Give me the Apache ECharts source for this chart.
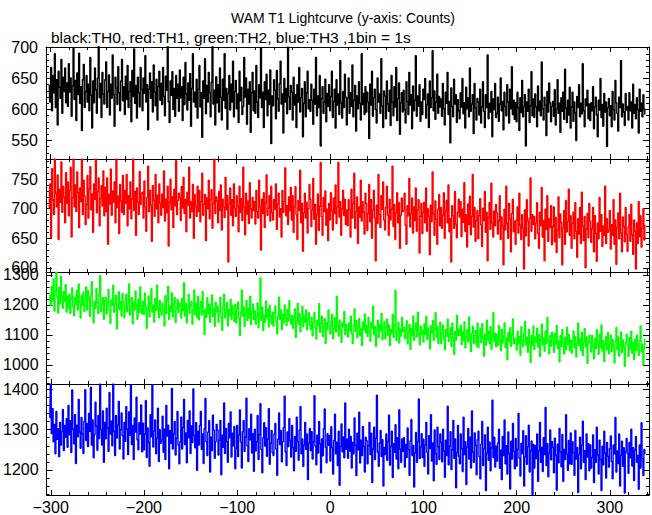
<!DOCTYPE html>
<html>
<head>
<meta charset="utf-8">
<script src="https://cdn.jsdelivr.net/npm/echarts@6/dist/echarts.min.js"></script>
<style>
html,body{margin:0;padding:0;background:#fff;}
#chart{width:652px;height:515px;}
</style>
</head>
<body>
<div id="chart"></div>
<script>
// ---- data (1 bin = 1 s) ----
const T_START = -301;   // time of first bin (s)
const BIN = 1;          // bin width (s)

const th0 = [
640,612,668,598,655,627,690,603,648,575,662,636,618,681,594,652,629,667,611,643,
605,674,628,651,589,638,700,616,647,582,659,624,691,610,637,566,648,673,603,629,
655,612,641,598,684,623,570,646,611,667,632,594,651,705,619,642,587,660,625,609,
648,677,603,629,656,591,641,618,688,624,573,652,635,608,669,627,598,646,681,614,
637,592,654,616,671,603,629,645,580,663,621,698,610,639,586,652,627,604,668,633,
598,651,626,687,612,640,567,633,659,618,645,596,672,628,606,649,583,637,662,615,
642,608,668,621,590,654,631,703,612,579,646,623,661,600,634,589,655,618,641,597,
664,619,637,582,652,608,676,625,599,643,615,658,573,634,690,612,628,604,649,586,
633,671,604,627,555,646,618,682,593,639,612,660,627,588,644,705,609,631,575,653,
611,640,596,667,620,583,649,615,690,602,634,568,626,655,599,641,612,678,588,629,
647,601,625,579,662,614,636,592,605,684,620,651,576,633,609,645,563,627,660,598,
630,594,671,612,587,640,619,700,603,628,571,645,616,657,590,631,608,664,545,622,
606,648,631,585,663,617,597,642,678,609,625,562,650,612,634,593,701,621,600,639,
628,583,652,607,624,571,640,612,668,596,619,634,556,610,645,588,627,662,601,616,
597,641,615,576,633,609,684,590,622,603,655,541,618,637,594,612,649,580,626,605,
640,598,621,662,587,613,633,570,648,607,625,592,679,611,586,629,603,657,620,575,
618,651,594,627,605,672,588,615,639,565,622,601,645,610,583,690,608,626,592,637,
596,628,612,553,641,607,662,589,619,633,600,578,651,612,625,594,682,606,571,630,
622,585,646,609,597,631,574,655,612,590,637,604,668,582,618,643,560,611,627,596,
631,600,578,645,613,592,660,607,624,569,638,598,615,687,589,622,605,640,581,612,
592,633,616,650,586,608,625,571,646,603,619,695,598,630,584,612,657,594,621,604,
617,589,642,601,575,628,610,660,592,613,546,635,605,588,649,609,624,579,616,598,
585,627,604,650,593,611,570,636,601,619,588,667,597,609,624,561,642,603,583,618,
612,591,633,578,604,645,597,571,624,603,688,585,610,596,629,556,617,600,642,587,
594,620,581,609,651,598,613,567,628,605,590,640,612,578,633,601,669,592,615,584,
611,580,628,603,566,619,595,647,588,605,624,541,612,597,633,579,606,661,590,617,
587,625,604,572,638,598,614,590,677,601,583,620,607,558,629,596,643,611,580,605,
613,589,632,575,601,648,594,610,563,619,597,628,584,665,602,579,615,591,636,570,
604,628,581,612,595,550,621,603,640,588,610,593,674,598,572,617,606,631,585,609,
582,611,598,637,569,604,620,591,556,615,599,650,587,608,573,626,596,612,540,603,
618,590,606,572,629,600,583,647,611,594,565,620,603,679,588,609,596,574,626,599,
605,583,627,598,612,570,641,594,608,585,619,600,562,633,597,610,588,624,601,592
];

const th1 = [
700,742,651,768,715,690,784,726,703,757,648,733,711,779,694,738,720,676,761,709,
745,688,731,770,652,719,784,703,740,695,762,727,668,735,712,784,690,748,721,673,
707,756,684,733,771,698,725,660,742,716,784,693,729,752,671,717,739,705,764,688,
736,695,752,640,724,708,767,689,730,711,745,676,784,702,721,658,741,713,694,756,
690,731,709,758,671,722,700,745,683,716,784,697,729,655,735,711,690,763,707,726,
728,684,747,703,662,719,772,695,731,706,645,739,714,687,758,700,723,676,742,709,
689,725,702,764,679,716,693,738,637,711,750,698,720,668,733,705,781,690,714,726,
719,680,737,701,753,692,715,661,728,706,770,684,712,695,741,650,724,703,687,738,
695,731,678,712,760,689,707,724,646,718,700,748,683,715,732,667,709,784,692,720,
713,676,729,697,740,664,716,703,685,753,698,722,610,708,735,689,715,671,742,701,
687,722,705,661,738,694,717,680,770,702,656,726,691,713,675,744,700,684,719,697,
712,674,731,695,684,748,703,630,716,692,727,668,710,757,689,701,722,679,738,694,
681,715,699,742,665,708,726,686,700,652,731,694,712,769,688,705,673,720,697,736,
681,722,660,703,737,690,648,714,697,765,676,709,628,693,726,684,711,659,700,741,
716,670,698,751,682,707,640,690,725,663,704,778,687,655,719,695,730,672,699,646,
709,681,727,697,664,718,692,740,675,703,778,686,712,655,700,731,689,716,673,698,
671,715,698,652,733,684,709,760,667,695,720,641,703,686,748,679,712,694,657,726,
709,663,692,741,678,715,650,697,731,684,612,706,675,758,690,668,722,699,745,681,
664,702,738,689,655,716,681,699,772,670,707,648,693,727,676,710,633,689,718,695,
697,726,672,640,705,688,751,669,692,718,659,703,680,735,662,698,715,625,687,709,
658,693,711,676,735,662,700,687,622,706,678,762,691,655,713,682,640,699,724,671,
702,667,689,727,650,696,714,676,740,661,683,610,705,688,667,729,674,651,694,716,
686,712,653,699,677,744,662,690,635,708,673,721,656,687,758,669,702,645,680,697,
649,688,717,673,636,701,680,729,660,694,612,685,710,665,743,676,652,696,671,707,
693,657,680,722,648,686,671,605,699,664,738,675,650,709,683,627,692,716,661,679,
640,681,703,659,726,672,648,690,667,598,698,654,715,679,637,684,752,662,690,673,
687,649,676,710,658,633,694,671,736,652,680,612,699,665,722,645,683,668,705,639,
670,703,644,685,626,664,720,651,691,677,605,668,697,640,714,661,679,733,655,688,
633,675,694,649,710,662,618,683,657,702,641,728,670,646,687,600,665,692,651,709,
679,643,666,702,627,688,658,611,676,649,719,662,690,636,671,655,738,641,683,660,
664,697,632,673,655,715,640,681,606,668,693,649,726,659,627,686,670,644,702,657,
628,669,690,645,707,656,623,681,662,598,676,641,712,653,688,635,667,700,647,673
];

const th2 = [
1235,1198,1262,1214,1287,1180,1246,1310,1225,1173,1258,1204,1296,1230,1189,1244,1211,1268,1176,1229,
1190,1236,1172,1218,1257,1195,1164,1226,1201,1249,1183,1270,1208,1156,1231,1199,1243,1178,1214,1260,
1183,1247,1219,1162,1231,1278,1196,1140,1212,1189,1255,1207,1171,1236,1298,1178,1203,1224,1152,1215,
1226,1170,1208,1252,1181,1139,1217,1199,1266,1176,1203,1232,1120,1191,1244,1185,1211,1163,1238,1197,
1158,1214,1236,1177,1203,1270,1166,1192,1224,1137,1209,1183,1247,1199,1152,1218,1175,1260,1196,1171,
1212,1168,1240,1195,1122,1187,1229,1160,1205,1255,1176,1199,1143,1221,1182,1266,1190,1157,1214,1179,
1165,1206,1188,1130,1231,1172,1214,1262,1151,1196,1179,1241,1160,1203,1225,1141,1186,1218,1175,1207,
1199,1156,1222,1181,1274,1163,1205,1140,1190,1236,1171,1197,1212,1136,1183,1250,1167,1206,1158,1229,
1150,1193,1211,1166,1245,1179,1101,1187,1159,1224,1171,1203,1142,1196,1233,1162,1188,1129,1209,1176,
1197,1143,1180,1226,1161,1115,1192,1236,1156,1174,1208,1130,1185,1164,1219,1151,1198,1171,1145,1202,
1140,1186,1210,1155,1098,1175,1250,1163,1194,1128,1169,1215,1148,1189,1157,1229,1134,1178,1203,1152,
1181,1136,1160,1207,1124,1170,1290,1149,1193,1115,1166,1142,1213,1158,1185,1127,1199,1162,1137,1176,
1129,1175,1197,1143,1104,1162,1226,1151,1183,1118,1168,1140,1200,1157,1131,1186,1146,1214,1163,1136,
1166,1122,1158,1187,1092,1149,1205,1135,1171,1110,1153,1196,1127,1162,1143,1183,1117,1150,1174,1131,
1118,1160,1097,1141,1175,1123,1086,1149,1130,1204,1109,1137,1162,1095,1128,1154,1072,1140,1117,1183,
1146,1103,1131,1169,1088,1122,1157,1110,1229,1134,1096,1150,1119,1075,1141,1127,1178,1101,1136,1113,
1093,1139,1115,1162,1104,1071,1133,1187,1112,1148,1090,1126,1155,1098,1121,1064,1143,1117,1170,1107,
1132,1095,1158,1110,1079,1141,1123,1196,1100,1128,1062,1117,1149,1091,1136,1113,1172,1084,1125,1145,
1087,1124,1152,1099,1133,1064,1118,1105,1168,1092,1129,1249,1081,1115,1142,1073,1120,1096,1158,1111,
1126,1088,1114,1147,1070,1109,1135,1052,1121,1097,1163,1082,1118,1140,1093,1176,1104,1067,1130,1101,
1114,1076,1137,1101,1162,1085,1123,1097,1053,1130,1106,1148,1082,1119,1174,1093,1127,1071,1110,1142,
1071,1108,1133,1085,1050,1117,1096,1152,1079,1102,1124,1062,1139,1090,1035,1111,1083,1166,1098,1120,
1099,1132,1068,1110,1081,1143,1057,1094,1118,1076,1160,1089,1044,1106,1129,1072,1097,1115,1063,1139,
1058,1096,1121,1074,1137,1090,1029,1103,1066,1149,1083,1112,1070,1127,1052,1094,1175,1078,1105,1060,
1102,1065,1131,1084,1047,1119,1073,1096,1140,1058,1090,1017,1108,1076,1124,1062,1099,1153,1070,1088,
1085,1049,1112,1070,1094,1033,1127,1081,1060,1106,1145,1067,1092,1042,1119,1075,1008,1098,1064,1130,
1051,1093,1076,1122,1059,1101,1028,1084,1136,1066,1090,1045,1113,1072,1158,1080,1037,1097,1063,1109,
1088,1042,1105,1069,1131,1055,1079,1010,1097,1061,1118,1074,1036,1092,1050,1126,1068,1101,1047,1083,
1039,1081,1113,1057,1095,1026,1072,1140,1064,1088,1048,1109,1031,1077,1121,1059,1093,1005,1070,1099,
1075,1043,1098,1062,1020,1087,1054,1117,1069,1035,1102,1058,1133,1046,1081,1011,1066,1094,1050,1108,
1037,1071,1099,1044,1085,1061,1006,1078,1125,1050,1093,1029,1066,1110,1041,1083,1057,995,1074,1102,
1064,1028,1091,1053,1112,1039,1075,1018,1086,1047,1099,1060,1032,1081,1130,1043,1069,1001,1056,1088
];

const th3 = [
1328,1413,1290,1352,1270,1313,1240,1345,1276,1302,1233,1318,1262,1295,1350,1248,1310,1281,1327,1256,
1360,1287,1322,1243,1398,1301,1265,1337,1216,1311,1282,1375,1294,1254,1330,1290,1241,1320,1399,1273,
1315,1258,1340,1296,1405,1262,1324,1230,1287,1368,1309,1249,1335,1278,1413,1300,1262,1346,1219,1318,
1277,1353,1304,1246,1392,1289,1321,1260,1413,1296,1236,1335,1279,1311,1370,1252,1300,1341,1285,1227,
1318,1271,1357,1301,1238,1344,1286,1410,1263,1310,1226,1329,1294,1380,1275,1250,1317,1289,1361,1245,
1316,1250,1289,1372,1231,1304,1268,1209,1337,1282,1411,1257,1296,1324,1240,1279,1353,1221,1300,1266,
1275,1333,1244,1301,1226,1360,1284,1311,1203,1297,1266,1402,1252,1289,1320,1237,1278,1345,1262,1215,
1270,1331,1252,1305,1375,1263,1292,1218,1323,1280,1346,1241,1309,1268,1401,1285,1255,1317,1199,1296,
1262,1310,1345,1251,1289,1216,1302,1377,1270,1236,1294,1322,1195,1281,1248,1336,1299,1229,1270,1313,
1299,1237,1274,1323,1188,1286,1256,1366,1241,1303,1270,1219,1315,1280,1344,1232,1291,1260,1308,1203,
1254,1310,1233,1287,1349,1269,1205,1295,1322,1246,1281,1378,1260,1221,1302,1275,1338,1242,1290,1197,
1301,1247,1270,1335,1226,1288,1364,1251,1193,1280,1317,1259,1305,1234,1276,1352,1214,1266,1298,1243,
1236,1289,1315,1252,1187,1276,1341,1263,1298,1220,1270,1305,1383,1245,1211,1294,1258,1327,1274,1232,
1310,1255,1198,1283,1246,1331,1270,1224,1299,1357,1240,1277,1209,1262,1318,1251,1289,1176,1267,1303,
1248,1295,1227,1270,1384,1259,1213,1286,1242,1320,1265,1193,1277,1235,1302,1351,1256,1218,1290,1261,
1285,1222,1307,1256,1190,1273,1338,1240,1269,1211,1296,1162,1258,1314,1245,1282,1230,1366,1251,1276,
1229,1301,1247,1283,1205,1268,1240,1329,1262,1186,1291,1250,1343,1217,1274,1236,1308,1258,1195,1281,
1273,1215,1260,1318,1238,1291,1169,1252,1306,1226,1279,1385,1244,1209,1267,1298,1233,1275,1160,1256,
1238,1289,1224,1270,1336,1212,1258,1296,1181,1265,1244,1312,1227,1280,1203,1349,1252,1219,1277,1246,
1280,1207,1263,1231,1304,1250,1187,1272,1325,1236,1261,1158,1242,1293,1219,1270,1376,1228,1257,1290,
1231,1276,1209,1262,1318,1244,1190,1285,1253,1337,1222,1267,1173,1299,1240,1214,1306,1258,1226,1289,
1268,1220,1301,1247,1182,1274,1236,1358,1213,1259,1295,1201,1250,1323,1229,1277,1156,1243,1310,1234,
1215,1289,1252,1196,1331,1238,1270,1164,1257,1303,1227,1281,1205,1346,1244,1219,1292,1261,1188,1275,
1296,1233,1178,1264,1320,1211,1253,1287,1149,1242,1306,1224,1269,1198,1255,1373,1230,1281,1207,1259,
1222,1267,1301,1204,1249,1176,1283,1236,1324,1215,1260,1190,1294,1241,1153,1271,1227,1315,1246,1203,
1278,1210,1252,1340,1229,1185,1266,1241,1297,1160,1233,1285,1214,1258,1311,1195,1247,1272,1139,1263,
1205,1261,1228,1289,1172,1247,1318,1219,1256,1196,1280,1238,1355,1211,1265,1183,1242,1299,1225,1270,
1256,1193,1279,1236,1150,1264,1218,1303,1245,1208,1288,1172,1251,1226,1337,1240,1199,1273,1215,1292,
1214,1270,1243,1187,1298,1227,1256,1144,1238,1281,1203,1262,1321,1219,1248,1176,1289,1232,1265,1198,
1262,1205,1231,1287,1169,1250,1219,1306,1237,1190,1274,1226,1149,1259,1213,1296,1242,1180,1268,1234,
1207,1253,1284,1221,1178,1262,1240,1330,1195,1247,1216,1289,1160,1236,1271,1209,1255,1143,1246,1278,
1241,1192,1268,1230,1301,1210,1255,1174,1249,1283,1219,1236,1152,1262,1205,1317,1228,1186,1251,1239
];

// tick labels
const xTickLabels = [-300, -200, -100, 0, 100, 200, 300];
const yTickLabels0 = [550, 600, 650, 700];
const yTickLabels1 = [600, 650, 700, 750];
const yTickLabels2 = [1000, 1100, 1200, 1300];
const yTickLabels3 = [1200, 1300, 1400];

const titleText = 'WAM T1 Lightcurve (y-axis: Counts)';
const subtitleText = 'black:TH0, red:TH1, green:TH2, blue:TH3 ,1bin = 1s';

// ---- layout / style ----
const X_MIN = -304.5, X_MAX = 342;
const GRID_LEFT = 46, GRID_WIDTH = 603;
const panels = [
  {vals: th0, color: '#000000', top: 47,  height: 112, min: 520,  max: 701,  major: yTickLabels0, minorStep: 10},
  {vals: th1, color: '#ff0000', top: 159, height: 113, min: 593,  max: 784,  major: yTickLabels1, minorStep: 10},
  {vals: th2, color: '#00ff00', top: 272, height: 112, min: 936,  max: 1310, major: yTickLabels2, minorStep: 20},
  {vals: th3, color: '#0000ff', top: 384, height: 112, min: 1138, max: 1413, major: yTickLabels3, minorStep: 20}
];

function stepValues(lo, hi, step) {
  const out = [];
  for (let v = Math.ceil(lo / step) * step; v <= hi; v += step) out.push(v);
  return out;
}
const xMinor = stepValues(X_MIN, X_MAX, 20);
const times = th0.map((_, i) => T_START + i * BIN);

const FONT = '"Liberation Sans", Arial, Helvetica, sans-serif';
const AX = {color: '#000', width: 1};
const fmtNum = v => (v < 0 ? '\u2212' + Math.abs(v) : String(v));

const grid = [], xAxis = [], yAxis = [], series = [];
panels.forEach((p, g) => {
  grid.push({left: GRID_LEFT, width: GRID_WIDTH, top: p.top, height: p.height, containLabel: false});
  const yMinor = stepValues(p.min, p.max, p.minorStep);
  const isLast = g === panels.length - 1;
  const baseX = {gridIndex: g, type: 'value', min: X_MIN, max: X_MAX, splitLine: {show: false}};
  const baseY = {gridIndex: g, type: 'value', min: p.min, max: p.max, splitLine: {show: false}};
  // x axes: bottom major, bottom minor, top major, top minor
  [['bottom', xTickLabels, 5, true], ['bottom', xMinor, 3, false], ['top', xTickLabels, 5, false], ['top', xMinor, 3, false]]
    .forEach(([pos, vals, len, main]) => {
      xAxis.push(Object.assign({}, baseX, {
        position: pos,
        axisLine: {show: main || len === 5, onZero: false, lineStyle: AX},
        axisTick: {show: true, inside: true, length: len, customValues: vals, lineStyle: AX},
        axisLabel: {show: main && isLast, customValues: xTickLabels, formatter: fmtNum,
          fontSize: 16, fontFamily: FONT, color: '#000', margin: 4}
      }));
    });
  [['left', p.major, 6, true], ['left', yMinor, 3, false], ['right', p.major, 6, false], ['right', yMinor, 3, false]]
    .forEach(([pos, vals, len, main]) => {
      yAxis.push(Object.assign({}, baseY, {
        position: pos,
        axisLine: {show: main || len === 6, onZero: false, lineStyle: AX},
        axisTick: {show: true, inside: true, length: len, customValues: vals, lineStyle: AX},
        axisLabel: {show: main, customValues: p.major, formatter: fmtNum,
          fontSize: 16, fontFamily: FONT, color: '#000', margin: 8}
      }));
    });
  series.push({
    type: 'line', xAxisIndex: g * 4, yAxisIndex: g * 4,
    step: 'middle', symbol: 'none', showSymbol: false, clip: true, silent: true,
    lineStyle: {color: p.color, width: 1.4}, itemStyle: {color: p.color},
    data: p.vals.map((v, i) => [times[i], v])
  });
});

const chart = echarts.init(document.getElementById('chart'), null, {renderer: 'svg'});
chart.setOption({
  animation: false,
  backgroundColor: '#ffffff',
  title: [
    {text: titleText, left: 338, top: 6, textAlign: 'center',
      textStyle: {fontSize: 14, fontWeight: 'normal', color: '#000', fontFamily: FONT}},
    {text: subtitleText, left: 46, top: 24,
      textStyle: {fontSize: 15.5, fontWeight: 'normal', color: '#000', fontFamily: FONT}}
  ],
  grid, xAxis, yAxis, series
});
</script>
</body>
</html>
